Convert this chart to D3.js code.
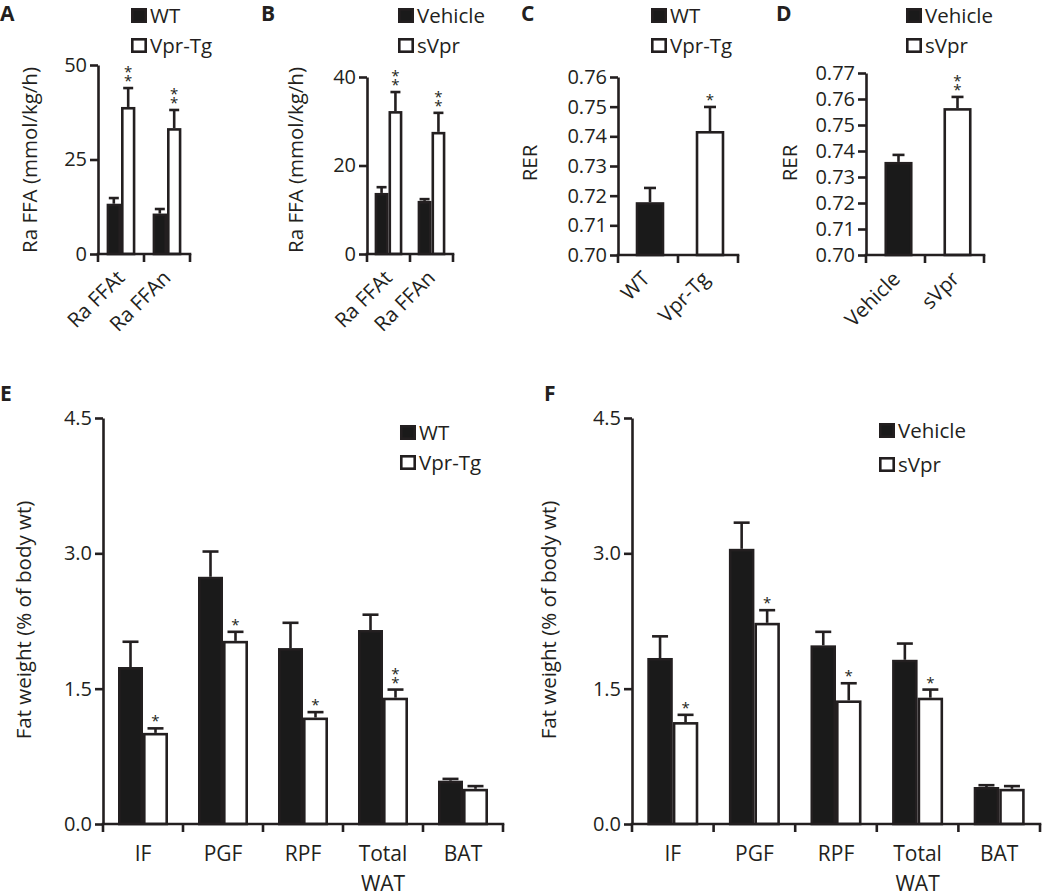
<!DOCTYPE html>
<html>
<head>
<meta charset="utf-8">
<script src="https://cdn.jsdelivr.net/npm/d3@7"></script>
<style>
  html, body { margin: 0; padding: 0; background: #fff; }
  svg { display: block; }
  text { font-family: "Open Sans", "Noto Sans", sans-serif; fill: #231f20; }
</style>
</head>
<body>
<svg id="chart" width="1050" height="891"></svg>
<script>
// ---------------- DATA ----------------
const catsFFA = ["Ra FFAt", "Ra FFAn"];
const seriesA = ["WT", "Vpr-Tg"];
const aWT = [13.3, 10.7];
const aWTsem = [1.5, 1.2];
const aTg = [38.9, 33.3];
const aTgSem = [5.0, 4.8];
const aSig = ["", "**", "", "**"];

const seriesB = ["Vehicle", "sVpr"];
const bVeh = [13.8, 12.0];
const bVehSem = [1.3, 0.4];
const bSvpr = [32.3, 27.6];
const bSvprSem = [4.3, 4.3];
const bSig = ["", "**", "", "**"];

const catsC = ["WT", "Vpr-Tg"];
const cRER = [0.7178, 0.7418];
const cSem = [0.0048, 0.0081];
const cSig = ["", "*"];

const catsD = ["Vehicle", "sVpr"];
const dRER = [0.7358, 0.7565];
const dSem = [0.0027, 0.0043];
const dSig = ["", "**"];

const catsFat = ["IF", "PGF", "RPF", "Total\nWAT", "BAT"];
const eWT = [1.74, 2.74, 1.95, 2.15, 0.48];
const eWTsem = [0.28, 0.28, 0.28, 0.17, 0.02];
const eTg = [1.01, 2.03, 1.18, 1.40, 0.39];
const eTgSem = [0.05, 0.10, 0.06, 0.09, 0.03];
const eSig = ["", "*", "", "*", "", "*", "", "**", "", ""];

const fVeh = [1.84, 3.05, 1.98, 1.82, 0.41];
const fVehSem = [0.24, 0.29, 0.15, 0.18, 0.02];
const fSvpr = [1.13, 2.23, 1.37, 1.40, 0.39];
const fSvprSem = [0.08, 0.14, 0.19, 0.09, 0.03];
const fSig = ["", "*", "", "*", "", "*", "", "*", "", ""];

const ticksA = [0, 25, 50];
const ticksB = [0, 20, 40];
const ticksC = [0.70, 0.71, 0.72, 0.73, 0.74, 0.75, 0.76];
const ticksD = [0.70, 0.71, 0.72, 0.73, 0.74, 0.75, 0.76, 0.77];
const ticksEF = [0, 1.5, 3.0, 4.5];

// ---------------- DRAWING ----------------
const svg = d3.select("#chart");
const INK = "#231f20";
const SW = 2.6;

function yAxis(g, y, xPos, ticks, fmt, fs) {
  const ax = g.append("g").attr("transform", `translate(${xPos},0)`)
    .call(d3.axisLeft(y).tickValues(ticks).tickFormat(d3.format(fmt)).tickSize(8).tickSizeOuter(0).tickPadding(3));
  ax.select(".domain").attr("stroke", INK).attr("stroke-width", SW);
  ax.selectAll(".tick line").attr("stroke", INK).attr("stroke-width", SW);
  ax.selectAll(".tick text").attr("font-size", fs).attr("fill", INK)
    .attr("font-family", '"Open Sans", sans-serif');
  return ax;
}

function xAxisBoundaries(g, xBand, yPix) {
  const r = xBand.range();
  const pts = xBand.domain().map(c => xBand(c)).concat([r[1]]);
  g.append("line").attr("x1", r[0] - SW / 2).attr("x2", r[1] + SW / 2)
    .attr("y1", yPix).attr("y2", yPix).attr("stroke", INK).attr("stroke-width", SW);
  g.selectAll(".xt").data(pts).join("line").attr("class", "xt")
    .attr("x1", d => d).attr("x2", d => d).attr("y1", yPix).attr("y2", yPix + 8)
    .attr("stroke", INK).attr("stroke-width", SW);
}

function drawBar(g, x, w, y, val, sem, sig, filled, capW, starFs) {
  const y0 = y.range()[0];
  const top = y(val);
  const errY = y(val + sem);
  const cx = x + w / 2;
  g.append("line").attr("x1", cx).attr("x2", cx).attr("y1", top).attr("y2", errY)
    .attr("stroke", INK).attr("stroke-width", SW);
  g.append("line").attr("x1", cx - capW / 2).attr("x2", cx + capW / 2).attr("y1", errY).attr("y2", errY)
    .attr("stroke", INK).attr("stroke-width", SW);
  g.append("rect").attr("x", x + SW / 2).attr("y", top + SW / 2)
    .attr("width", w - SW).attr("height", Math.max(0, y0 - top - SW / 2))
    .attr("fill", filled ? "#1a1a1a" : "#fff").attr("stroke", INK).attr("stroke-width", SW);
  if (sig) {
    const n = sig.length;
    for (let i = 0; i < n; i++) {
      g.append("text").attr("x", cx).attr("y", errY - 2 - i * 9)
        .attr("text-anchor", "middle").attr("font-size", starFs).text("*");
    }
  }
}

function legend(g, x, y1, y2, labels, fs) {
  [[y1, true, labels[0]], [y2, false, labels[1]]].forEach(([yy, filled, lab]) => {
    g.append("rect").attr("x", x + SW / 2).attr("y", yy + SW / 2).attr("width", 16 - SW).attr("height", 15 - SW)
      .attr("fill", filled ? "#1a1a1a" : "#fff").attr("stroke", INK).attr("stroke-width", SW);
    g.append("text").attr("x", x + 19).attr("y", yy + 14.5).attr("font-size", fs).text(lab);
  });
}

function panelLetter(x, y, t) {
  svg.append("text").attr("x", x).attr("y", y).attr("font-size", 21).attr("font-weight", "bold")
    .attr("font-family", '"Open Sans", sans-serif').text(t);
}

function rotatedLabels(g, xBand, yPix, cats, fs, dx) {
  cats.forEach(c => {
    const cx = xBand(c) + xBand.bandwidth() / 2 + dx;
    g.append("text").attr("transform", `translate(${cx},${yPix + 25}) rotate(-45)`)
      .attr("text-anchor", "end").attr("font-size", fs).text(c);
  });
}

function yTitle(g, x, yc, text, fs) {
  g.append("text").attr("transform", `translate(${x},${yc}) rotate(-90)`)
    .attr("text-anchor", "middle").attr("font-size", fs).text(text);
}

function grouped(opts) {
  const g = svg.append("g");
  const y = d3.scaleLinear().domain(opts.domain).range([opts.yBottom, opts.yTop]);
  const x0 = d3.scaleBand().domain(opts.cats).range([opts.xLeft, opts.xRight]).paddingInner(0).paddingOuter(0);
  const x1 = d3.scaleBand().domain(opts.series).range([0, x0.bandwidth()]).paddingInner(0).paddingOuter(opts.outerPad);
  opts.cats.forEach((c, i) => {
    drawBar(g, x0(c) + x1(opts.series[0]), x1.bandwidth(), y, opts.v1[i], opts.s1[i], opts.sig[2 * i], true, opts.capW, opts.starFs);
    drawBar(g, x0(c) + x1(opts.series[1]), x1.bandwidth(), y, opts.v2[i], opts.s2[i], opts.sig[2 * i + 1], false, opts.capW, opts.starFs);
  });
  yAxis(g, y, opts.xLeft, opts.ticks, opts.fmt, opts.tickFs);
  xAxisBoundaries(g, x0, opts.yBottom);
  return { g, x0, y };
}

function single(opts) {
  const g = svg.append("g");
  const y = d3.scaleLinear().domain(opts.domain).range([opts.yBottom, opts.yTop]);
  const x0 = d3.scaleBand().domain(opts.cats).range([opts.xLeft, opts.xRight]).paddingInner(0).paddingOuter(0);
  const x1 = d3.scaleBand().domain(["v"]).range([0, x0.bandwidth()]).paddingOuter(opts.outerPad);
  opts.cats.forEach((c, i) => {
    drawBar(g, x0(c) + x1("v") + opts.shift, x1.bandwidth(), y, opts.v[i], opts.s[i], opts.sig[i], i === 0, opts.capW, opts.starFs);
  });
  yAxis(g, y, opts.xLeft, opts.ticks, opts.fmt, opts.tickFs);
  xAxisBoundaries(g, x0, opts.yBottom);
  return { g, x0, y };
}

// ---- Panel A ----
{
  const p = grouped({ cats: catsFFA, series: seriesA, v1: aWT, s1: aWTsem, v2: aTg, s2: aTgSem, sig: aSig,
    domain: [0, 50], ticks: ticksA, fmt: "d", xLeft: 98, xRight: 190, yTop: 65, yBottom: 254,
    outerPad: 0.6, capW: 10, starFs: 15, tickFs: 20 });
  rotatedLabels(p.g, p.x0, 254, catsFFA, 20.5, 5);
  yTitle(p.g, 37, 160, "Ra FFA (mmol/kg/h)", 20.5);
  legend(p.g, 131, 8, 38, seriesA, 20.5);
  panelLetter(0, 21, "A");
}
// ---- Panel B ----
{
  const p = grouped({ cats: catsFFA, series: seriesB, v1: bVeh, s1: bVehSem, v2: bSvpr, s2: bSvprSem, sig: bSig,
    domain: [0, 40], ticks: ticksB, fmt: "d", xLeft: 367, xRight: 453, yTop: 77, yBottom: 254,
    outerPad: 0.55, capW: 10, starFs: 15, tickFs: 20 });
  rotatedLabels(p.g, p.x0, 254, catsFFA, 20.5, 5);
  yTitle(p.g, 303, 160, "Ra FFA (mmol/kg/h)", 20.5);
  legend(p.g, 398, 8, 38, seriesB, 20.5);
  panelLetter(261, 21, "B");
}
// ---- Panel C ----
{
  const p = single({ cats: catsC, v: cRER, s: cSem, sig: cSig,
    domain: [0.70, 0.76], ticks: ticksC, fmt: ".2f", xLeft: 618, xRight: 738, yTop: 77, yBottom: 255,
    outerPad: 0.55, shift: 2, capW: 12, starFs: 15, tickFs: 20 });
  rotatedLabels(p.g, p.x0, 255, catsC, 20.5, 3);
  yTitle(p.g, 537, 163, "RER", 20.5);
  legend(p.g, 651, 8, 38, seriesA, 20.5);
  panelLetter(521, 21, "C");
}
// ---- Panel D ----
{
  const p = single({ cats: catsD, v: dRER, s: dSem, sig: dSig,
    domain: [0.70, 0.77], ticks: ticksD, fmt: ".2f", xLeft: 866, xRight: 984, yTop: 73, yBottom: 255,
    outerPad: 0.55, shift: 3, capW: 12, starFs: 15, tickFs: 20 });
  rotatedLabels(p.g, p.x0, 255, catsD, 20.5, 6);
  yTitle(p.g, 797, 163, "RER", 20.5);
  legend(p.g, 906, 8, 38, seriesB, 20.5);
  panelLetter(776, 21, "D");
}

function fatLabels(g, x0, yPix) {
  catsFat.forEach(c => {
    const lines = c.split("\n");
    const cx = x0(c) + x0.bandwidth() / 2;
    lines.forEach((ln, i) => {
      g.append("text").attr("x", cx).attr("y", yPix + 37 + i * 30)
        .attr("text-anchor", "middle").attr("font-size", 21).text(ln);
    });
  });
}

// ---- Panel E ----
{
  const p = grouped({ cats: catsFat, series: seriesA, v1: eWT, s1: eWTsem, v2: eTg, s2: eTgSem, sig: eSig,
    domain: [0, 4.5], ticks: ticksEF, fmt: ".1f", xLeft: 103, xRight: 503, yTop: 418, yBottom: 824,
    outerPad: 0.6, capW: 16, starFs: 15, tickFs: 20 });
  fatLabels(p.g, p.x0, 824);
  yTitle(p.g, 31, 620, "Fat weight (% of body wt)", 20.5);
  legend(p.g, 400, 425, 455, seriesA, 20.5);
  panelLetter(0, 401, "E");
}
// ---- Panel F ----
{
  const p = grouped({ cats: catsFat, series: seriesB, v1: fVeh, s1: fVehSem, v2: fSvpr, s2: fSvprSem, sig: fSig,
    domain: [0, 4.5], ticks: ticksEF, fmt: ".1f", xLeft: 632, xRight: 1040, yTop: 418, yBottom: 824,
    outerPad: 0.6, capW: 16, starFs: 15, tickFs: 20 });
  fatLabels(p.g, p.x0, 824);
  yTitle(p.g, 556, 620, "Fat weight (% of body wt)", 20.5);
  legend(p.g, 879, 423, 457, seriesB, 20.5);
  panelLetter(544, 401, "F");
}
</script>
</body>
</html>
